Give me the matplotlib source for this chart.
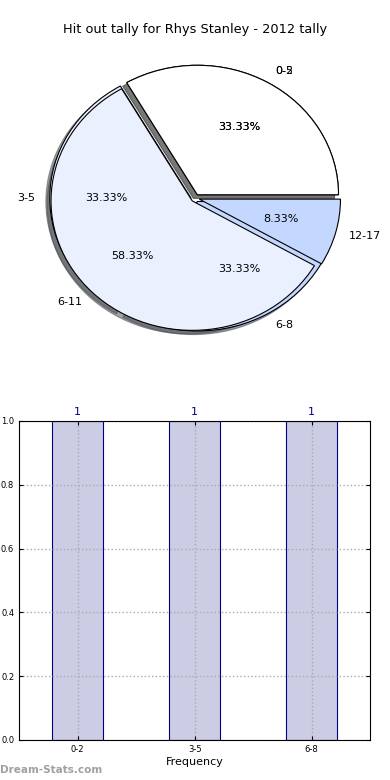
import matplotlib
matplotlib.use('Agg')
import matplotlib.pyplot as plt
import numpy as np

# pie data (two tallies drawn on top of each other)
labels_a = ['0-2', '3-5', '6-8']
counts_a = [1, 1, 1]
labels_b = ['0-5', '6-11', '12-17']
counts_b = [4, 7, 1]
pie_colors = ['#ffffff', '#eaf0fe', '#c4d7fe']

# bar data
bar_labels = ['0-2', '3-5', '6-8']
bar_values = [1, 1, 1]

fig = plt.figure(figsize=(3.9, 7.8), dpi=100)

ax1 = fig.add_axes([0.048, 0.5385, 0.905, 0.415])
for lab, cnt in [(labels_a, counts_a), (labels_b, counts_b)]:
    ax1.pie(cnt, labels=lab, colors=pie_colors, autopct='%.2f%%',
            explode=[0.03] * 3, shadow=True,
            wedgeprops={'linewidth': 0.8, 'edgecolor': 'black'},
            textprops={'fontsize': 8})
ax1.set_aspect('auto')
ax1.set_xlim(-1.25, 1.25)
ax1.set_ylim(-1.25, 1.25)
fig.text(0.5, 1 - 30 / 780, 'Hit out tally for Rhys Stanley - 2012 tally',
         ha='center', va='center', fontsize=9.3)

ax2 = fig.add_axes([0.049, 0.0513, 0.9, 0.409])
x = np.arange(len(bar_labels))
ax2.bar(x, bar_values, width=0.44, color='navy', alpha=0.2)
ax2.bar(x, bar_values, width=0.44, color='none', edgecolor='navy', linewidth=0.8)
for xi, v in zip(x, bar_values):
    ax2.text(xi, v + 0.012, str(v), ha='center', va='bottom', color='navy', fontsize=8)
ax2.set_xlim(-0.5, 2.5)
ax2.set_ylim(0, 1.0)
ax2.set_xticks(x)
ax2.set_xticklabels(bar_labels)
ax2.set_yticks(np.arange(0, 1.01, 0.2))
ax2.tick_params(labelsize=6, direction='in', top=True, right=True, length=3)
ax2.set_xlabel('Frequency', fontsize=8, labelpad=2)
ax2.grid(True, linestyle=':', color='#aaaaaa', linewidth=1)
ax2.set_axisbelow(False)
for sp in ax2.spines.values():
    sp.set_zorder(5)

fig.text(0.0, 1 - 770 / 780, 'Dream-Stats.com', color='#a0a0a0', fontsize=7.5,
         fontweight='bold', ha='left', va='center')

fig.savefig('out.png', dpi=100)
